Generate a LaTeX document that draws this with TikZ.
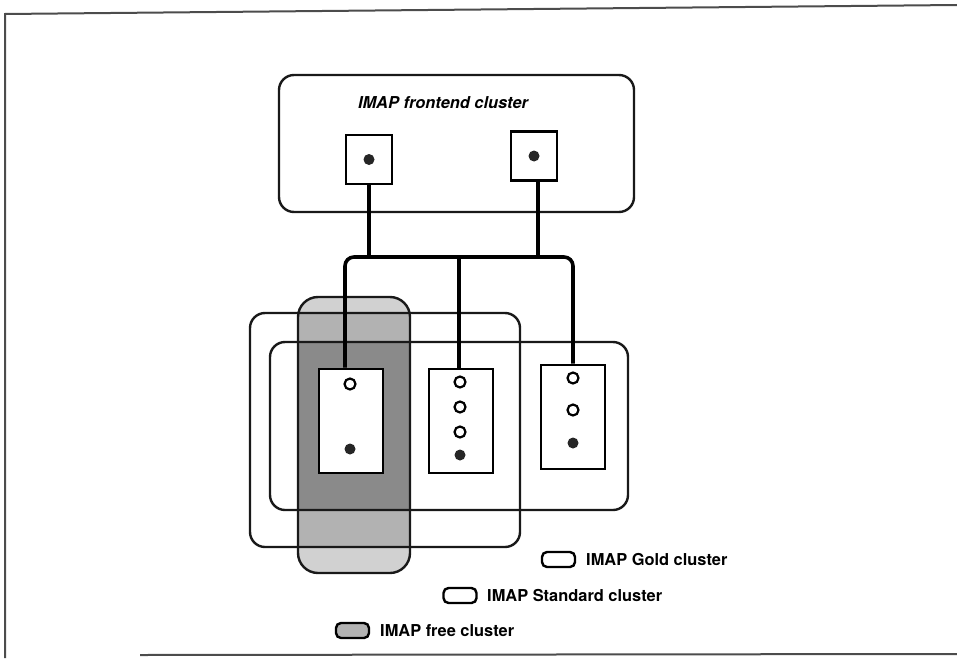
\documentclass[tikz,border=0pt]{standalone}
\usepackage{fontspec}
\setmainfont{TeX Gyre Heros}
\usetikzlibrary{calc}
\tikzset{
  frame/.style={draw=black!70, line width=2pt},
  cluster/.style={draw=black!90, line width=2.4pt, rounded corners=15pt},
  sq/.style={draw=black, line width=2.6pt, fill=white, inner sep=0pt, minimum width=46pt, minimum height=49pt},
  srv/.style={draw=black, line width=2.6pt, fill=white, inner sep=0pt, minimum width=64pt, minimum height=104pt},
  conn/.style={draw=black, line width=3.6pt},
  hole/.style={circle, draw=black, line width=2.2pt, fill=white, inner sep=0pt, minimum size=11pt},
  full/.style={circle, fill=black!85, inner sep=0pt, minimum size=11pt},
  lab/.style={font=\fontsize{16.4}{18}\selectfont\bfseries, inner sep=0pt, anchor=west},
  icon/.style={draw=black, line width=2.4pt, rounded corners=5pt, minimum width=33pt, minimum height=15pt, inner sep=0pt}
}
\begin{document}
\begin{tikzpicture}[x=1pt,y=-1pt]
\useasboundingbox (0,0) rectangle (957,658);
% outer frame
\coordinate (tl) at (5,14);
\coordinate (tr) at (957,5);
\coordinate (bl) at (5,658);
\coordinate (bs) at (140,655);
\coordinate (br) at (957,654);
\draw[frame] (tr) -- (tl) -- (bl);
\draw[frame] (bs) -- (br);

% frontend cluster
\draw[cluster] (279,75) rectangle (634,212);
\node[font=\fontsize{16.4}{18}\selectfont\bfseries\itshape, inner sep=0pt] (ftitle) at (443,103) {IMAP frontend cluster};
\node[sq] (f1) at (369,159.5) {};
\node[sq] (f2) at (534,156) {};
\node[full] (f1d) at (f1) {};
\node[full] (f2d) at (f2) {};

% free cluster shading (with overlap tones)
\begin{scope}
  \clip[rounded corners=20pt] (298,297) rectangle (410,573);
  \fill[black!18] (290,290) rectangle (420,580);
  \fill[black!30] (250,313) rectangle (520,547);
  \fill[black!46] (270,342) rectangle (628,510);
\end{scope}

% cluster outlines
\draw[cluster, rounded corners=20pt] (298,297) rectangle (410,573);
\draw[cluster] (250,313) rectangle (520,547);
\draw[cluster] (270,342) rectangle (628,510);

% server boxes
\node[srv] (s1) at (351,421) {};
\node[srv] (s2) at (461,421) {};
\node[srv] (s3) at (573,417) {};

\node[hole] (s1a) at (350,384) {};
\node[full] (s1b) at (350,449) {};

\node[hole] (s2a) at (460,382) {};
\node[hole] (s2b) at (460,407) {};
\node[hole] (s2c) at (460,432) {};
\node[full] (s2d) at (460,455) {};

\node[hole] (s3a) at (573,378) {};
\node[hole] (s3b) at (573,410) {};
\node[full] (s3c) at (573,443) {};

% connectors
\coordinate (bus) at (459,257);
\draw[conn] (f1.south) -- (f1.south |- bus);
\draw[conn] ($(f2.south)+(4,0)$) -- ($(f2.south |- bus)+(4,0)$);
\draw[conn, rounded corners=9pt] ($(s1.north)+(-6,0)$) |- (bus) -| (s3.north);
\draw[conn] ($(s2.north)+(-2,0)$) -- ($(s2.north |- bus)+(-2,0)$);

% legend
\node[icon] (lg) at (558.5,559.5) {};
\node[lab] (lgt) at (586,560) {IMAP Gold cluster};
\node[icon] (ls) at (460,595.5) {};
\node[lab] (lst) at (487,596) {IMAP Standard cluster};
\node[icon, fill=black!30] (lf) at (352.5,630.5) {};
\node[lab] (lft) at (380,631) {IMAP free cluster};
\end{tikzpicture}
\end{document}
